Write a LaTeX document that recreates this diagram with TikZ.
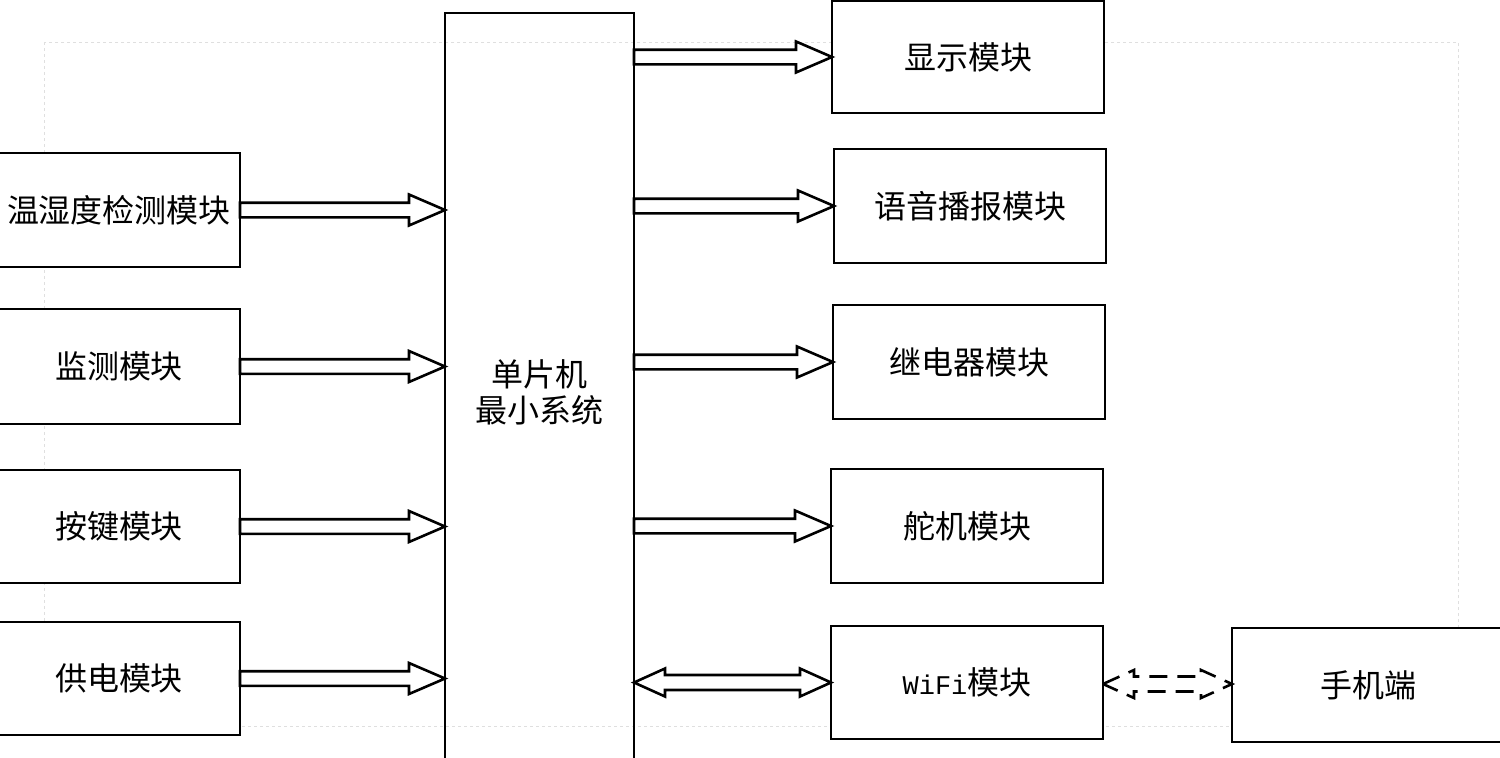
\documentclass[tikz,border=0pt]{standalone}
\usepackage{fontspec}
\setmainfont{Noto Sans CJK SC}
\newfontfamily\monof{Liberation Mono}
\usetikzlibrary{calc}
\tikzset{
  box/.style={draw, line width=1.9pt, fill=white, outer sep=0pt, minimum width=272pt, minimum height=114pt, inner sep=0pt, font=\fontsize{32}{36}\selectfont},
  lbox/.style={box, minimum width=242pt},
  hollow/.style={draw, line width=2.6pt, fill=white, line join=miter},
  faint/.style={draw=gray!25, dashed, line width=0.8pt},
}
\newcommand\harrow[3][]{%
  \draw[hollow,#1] let \p1=(#2), \p2=(#3) in
    (\x1,\y1+7.3pt) -- (\x2-36pt,\y1+7.3pt) -- (\x2-36pt,\y1+15.5pt) -- (\x2,\y1)
    -- (\x2-36pt,\y1-15.5pt) -- (\x2-36pt,\y1-7.3pt) -- (\x1,\y1-7.3pt) -- cycle;}
\newcommand\dharrow[3][]{%
  \draw[hollow,#1] let \p1=(#2), \p2=(#3) in
    (\x1,\y1) -- (\x1+31pt,\y1+14pt) -- (\x1+31pt,\y1+7.5pt) -- (\x2-31pt,\y1+7.5pt)
    -- (\x2-31pt,\y1+14pt) -- (\x2,\y1) -- (\x2-31pt,\y1-14pt) -- (\x2-31pt,\y1-7.5pt)
    -- (\x1+31pt,\y1-7.5pt) -- (\x1+31pt,\y1-14pt) -- cycle;}
\begin{document}
\begin{tikzpicture}[x=1pt,y=-1pt]
\useasboundingbox (0,0) rectangle (1500,758);
\draw[faint] (44,42) rectangle (1458,726);
% MCU
\node[box, fill=none, minimum width=189pt, minimum height=758pt, align=center] (mcu) at (539.5,392) {单片机\\最小系统};
% left
\node[lbox] (wsd) at (119,210) {温湿度检测模块};
\node[lbox, minimum height=115pt] (jc) at (119,366.5) {监测模块};
\node[lbox, minimum height=113pt] (aj) at (119,526.5) {按键模块};
\node[lbox, minimum height=113pt] (gd) at (119,678.5) {供电模块};
% right
\node[box, minimum height=112pt] (xs) at (968,57) {显示模块};
\node[box] (yy) at (970,206) {语音播报模块};
\node[box] (jdq) at (969,362) {继电器模块};
\node[box] (dj) at (967,526) {舵机模块};
\node[box, minimum height=113pt] (wifi) at (967,682.5) {{\monof\fontsize{27}{36}\selectfont WiFi}模块};
\node[box] (sj) at (1368,685) {手机端};
% arrows in
\harrow{wsd.east}{wsd.east -| mcu.west}
\harrow{jc.east}{jc.east -| mcu.west}
\harrow{aj.east}{aj.east -| mcu.west}
\harrow{gd.east}{gd.east -| mcu.west}
% arrows out
\harrow{mcu.east |- xs.west}{xs.west}
\harrow{mcu.east |- yy.west}{yy.west}
\harrow{mcu.east |- jdq.west}{jdq.west}
\harrow{mcu.east |- dj.west}{dj.west}
\dharrow{mcu.east |- wifi.west}{wifi.west}
\coordinate (dl) at ($(wifi.east)+(0,1.5)$);
\dharrow[dashed, dash pattern=on 18pt off 10pt]{dl}{dl -| sj.west}
\end{tikzpicture}
\end{document}
